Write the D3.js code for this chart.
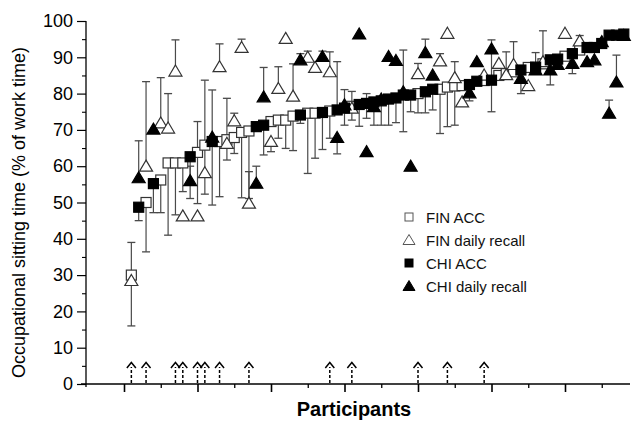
<!DOCTYPE html>
<html>
<head>
<meta charset="utf-8">
<script src="https://cdn.jsdelivr.net/npm/d3@7"></script>
<style>
  html, body { margin: 0; padding: 0; background: #fff; }
  svg { display: block; font-family: "Liberation Sans", Arial, Helvetica, sans-serif; }
</style>
</head>
<body>
<svg id="chart" width="633" height="421"></svg>
<script>
// ---------------- data ----------------
const participants = d3.range(1, 69);
const country = [
  "F","C","F","C","F","F","F","F","C","F",
  "F","C","F","F","F","F","F","C","C","F",
  "F","F","F","C","F","F","C","F","C","C",
  "F","C","C","C","C","C","C","C","C","F",
  "C","C","F","F","F","F","C","C","F","C",
  "F","F","F","C","F","C","F","C","C","F",
  "C","F","C","C","C","C","C","C"];
const accValues = [
  30,48.7,50,55.2,56.2,60.9,60.9,60.9,62.6,63.8,
  65.8,66.8,66.8,67.3,67.9,69.3,69.7,70.9,71.3,72.3,
  72.7,72.7,73.8,74.1,74.6,74.6,74.8,75.2,75.5,76,
  76.5,77,77.3,77.7,78,78.5,78.8,79.6,79.6,80,
  80.5,81.2,81.2,81.8,82.1,82.2,82.5,83.4,83.6,83.7,
  85,85.5,86,86.5,87.2,87.3,88.2,89.3,89.5,90.3,
  91,92,92.7,92.7,93.8,96.1,96.1,96.4];
const accLow = [
  16,45,36.4,47.2,47.2,41,46.6,53,51.1,49.7,
  52.3,49.3,51.6,61.7,63.5,51.3,51.1,null,63.1,null,
  67.7,64.9,64.3,71.8,58,62.2,64.6,67.7,null,71.3,
  72.7,71,73.2,71.3,71.3,71.3,72,69.5,75,74.7,
  74.7,75.5,69,70.9,71.3,null,78,null,null,75,
  null,null,null,80,null,null,null,null,null,null,
  null,null,null,null,null,null,null,null];
const accHigh = [
  39,null,null,null,null,null,null,null,null,72.3,
  83.7,81,null,null,null,null,null,null,null,null,
  null,null,null,null,null,null,null,null,88.8,81.1,
  80.6,null,80,null,null,null,null,null,null,null,
  null,null,null,null,null,null,null,null,null,91.5,
  null,null,null,null,null,91.3,null,null,null,null,
  null,null,null,null,null,null,null,null];
const recallValues = [
  28.5,56.8,60,70.2,71.9,70.5,86.2,46.3,56,46.3,
  58.2,68,87.4,66.3,72.5,92.7,49.8,55.3,79.1,66.8,
  81.4,95.2,79.3,89.3,90,87.2,90.2,86,67.9,76.9,
  76,96.4,64,76.4,78.5,90.2,89.1,80.5,60,85.5,
  91.3,85.1,89,96.6,84.4,77.7,80.2,88.8,85.1,92.3,
  88.3,85.2,88,84.2,82.2,86.5,88.8,86.5,88,96.6,
  88.3,94.5,88.8,89.3,94.3,74.6,83.2,96];
const recallLow = [
  null,null,null,null,null,null,null,null,null,null,
  null,null,null,null,null,null,null,null,null,64,
  null,null,null,null,null,null,null,null,63.4,null,
  null,null,null,null,null,null,null,null,null,null,
  null,null,null,null,null,null,null,null,null,null,
  null,null,null,null,null,null,null,82.4,null,null,
  85.5,null,null,null,null,null,null,null];
const recallHigh = [
  null,67,83.3,null,84.4,80,94.8,null,60,null,
  null,null,93.7,78.7,74.6,95,58.5,60,87.2,null,
  87.4,null,88.2,91,91.7,null,91.7,91.5,null,null,
  null,null,null,null,null,null,null,92,null,88.3,
  95,null,91,null,88.8,null,null,null,null,94.8,
  null,91.5,94.3,null,null,null,97.3,null,null,null,
  null,96,null,null,null,78.2,90.6,null];
const arrowParticipants = [1,3,7,8,10,11,13,17,28,31,40,44,49];
const yTicks = [0,10,20,30,40,50,60,70,80,90,100];
const yMinorTicks = [5,15,25,35,45,55,65,75,85,95];
const xMajorTicks = [0,10,20,30,40,50,60];
const xMinorTicks = [5,15,25,35,45,55,65];
const legendLabels = ["FIN ACC","FIN daily recall","CHI ACC","CHI daily recall"];
const legendKinds = [["F","sq"],["F","tri"],["C","sq"],["C","tri"]];
const yTitle = "Occupational sitting time (% of work time)";
const xTitle = "Participants";

// ---------------- layout ----------------
const svg = d3.select("#chart");
const x = d3.scaleLinear().domain([0, 70]).range([124, 638.5]);
const y = d3.scaleLinear().domain([0, 100]).range([384, 21]);
const axisX0 = 86, axisRight = 630;

const rows = participants.map((p, i) => ({
  p, c: country[i], acc: accValues[i], aLo: accLow[i], aHi: accHigh[i],
  rec: recallValues[i], rLo: recallLow[i], rHi: recallHigh[i]
}));

// axes
const yAxis = d3.axisLeft(y).tickValues(yTicks).tickSize(9).tickPadding(4).tickFormat(d3.format("d"));
const gy = svg.append("g").attr("transform", `translate(${axisX0},0)`).call(yAxis);
gy.select(".domain").remove();
gy.selectAll(".tick line").attr("stroke", "#000").attr("stroke-width", 1.2);
gy.selectAll(".tick text").attr("font-size", 18).attr("fill", "#000")
  .attr("font-family", "Liberation Sans, Arial, sans-serif");
const gyMinor = svg.append("g").attr("transform", `translate(${axisX0},0)`)
  .call(d3.axisLeft(y).tickValues(yMinorTicks).tickSize(4).tickFormat(""));
gyMinor.select(".domain").remove();
gyMinor.selectAll(".tick line").attr("stroke", "#000").attr("stroke-width", 1.1);

const gx = svg.append("g").attr("transform", `translate(0,${y(0)})`)
  .call(d3.axisBottom(x).tickValues(xMajorTicks).tickSize(8).tickFormat(""));
gx.select(".domain").remove();
gx.selectAll(".tick line").attr("stroke", "#000").attr("stroke-width", 1.6);
const gxMinor = svg.append("g").attr("transform", `translate(0,${y(0)})`)
  .call(d3.axisBottom(x).tickValues(xMinorTicks).tickSize(4).tickFormat(""));
gxMinor.select(".domain").remove();
gxMinor.selectAll(".tick line").attr("stroke", "#000").attr("stroke-width", 1.3);

svg.append("line").attr("x1", axisX0).attr("x2", axisX0).attr("y1", y(100)).attr("y2", y(0) + 3)
  .attr("stroke", "#000").attr("stroke-width", 1.3);
svg.append("line").attr("x1", axisX0 - 5).attr("x2", axisRight).attr("y1", y(0)).attr("y2", y(0))
  .attr("stroke", "#000").attr("stroke-width", 1.6);

// titles
svg.append("text").attr("transform", `translate(25,${(y(0) + y(100)) / 2 + 10}) rotate(-90)`)
  .attr("text-anchor", "middle").attr("font-size", 18).attr("fill", "#000").text(yTitle);
svg.append("text").attr("x", 354).attr("y", 416).attr("text-anchor", "middle")
  .attr("font-size", 20).attr("font-weight", 600).attr("fill", "#000").text(xTitle);

// error bars
const barColor = "#4a4a4a", capW = 4;
const bars = [];
rows.forEach(r => {
  if (r.aLo != null) bars.push({ p: r.p, from: r.acc, to: r.aLo });
  if (r.aHi != null) bars.push({ p: r.p, from: r.acc, to: r.aHi });
  if (r.rLo != null) bars.push({ p: r.p, from: r.rec, to: r.rLo });
  if (r.rHi != null) bars.push({ p: r.p, from: r.rec, to: r.rHi });
});
const gb = svg.append("g");
gb.selectAll("line.v").data(bars).join("line").attr("class", "v")
  .attr("x1", d => x(d.p)).attr("x2", d => x(d.p))
  .attr("y1", d => y(d.from)).attr("y2", d => y(d.to))
  .attr("stroke", barColor).attr("stroke-width", 1.2);
gb.selectAll("line.cap").data(bars).join("line").attr("class", "cap")
  .attr("x1", d => x(d.p) - capW).attr("x2", d => x(d.p) + capW)
  .attr("y1", d => y(d.to)).attr("y2", d => y(d.to))
  .attr("stroke", barColor).attr("stroke-width", 1.3);

// markers
function triPath(cx, cy, w, h) {
  return `M${cx},${cy - h * 0.55}L${cx + w / 2},${cy + h * 0.45}L${cx - w / 2},${cy + h * 0.45}Z`;
}
const sq = 10;
function drawSquares(cc) {
  const fill = cc === "C" ? "#000" : "#fff";
  svg.append("g").selectAll("rect").data(rows.filter(r => r.c === cc)).join("rect")
    .attr("x", d => x(d.p) - sq / 2).attr("y", d => y(d.acc) - sq / 2)
    .attr("width", sq).attr("height", sq)
    .attr("fill", fill).attr("stroke", cc === "C" ? "#000" : "#333").attr("stroke-width", 1.2);
}
function drawTriangles(cc) {
  const fill = cc === "C" ? "#000" : "#fff";
  svg.append("g").selectAll("path").data(rows.filter(r => r.c === cc)).join("path")
    .attr("d", d => triPath(x(d.p), y(d.rec), 13, 11))
    .attr("fill", fill).attr("stroke", cc === "C" ? "#000" : "#333").attr("stroke-width", 1.2)
    .attr("stroke-linejoin", "miter");
}
drawSquares("F");
drawTriangles("F");
drawSquares("C");
drawTriangles("C");

// arrows
const ga = svg.append("g");
ga.selectAll("line").data(arrowParticipants).join("line")
  .attr("x1", d => x(d)).attr("x2", d => x(d))
  .attr("y1", y(0) - 1).attr("y2", y(0) - 17)
  .attr("stroke", "#000").attr("stroke-width", 1.5).attr("stroke-dasharray", "3,2");
ga.selectAll("path").data(arrowParticipants).join("path")
  .attr("d", d => `M${x(d) - 4.5},${y(0) - 16}L${x(d)},${y(0) - 21.5}L${x(d) + 4.5},${y(0) - 16}`)
  .attr("fill", "none").attr("stroke", "#000").attr("stroke-width", 1.5);

// legend
const lg = svg.append("g").attr("transform", "translate(409,217)");
legendLabels.forEach((lab, i) => {
  const [cc, kind] = legendKinds[i];
  const gy0 = i * 23;
  const fill = cc === "C" ? "#000" : "#fff";
  const stroke = cc === "C" ? "#000" : "#555";
  if (kind === "sq") {
    lg.append("rect").attr("x", -4).attr("y", gy0 - 4).attr("width", 8).attr("height", 8)
      .attr("fill", fill).attr("stroke", stroke).attr("stroke-width", 1);
  } else {
    lg.append("path").attr("d", triPath(0, gy0, 12, 10))
      .attr("fill", fill).attr("stroke", stroke).attr("stroke-width", 1);
  }
  lg.append("text").attr("x", 17).attr("y", gy0 + 5.5).attr("font-size", 15)
    .attr("fill", "#111").text(lab);
});
</script>
</body>
</html>
